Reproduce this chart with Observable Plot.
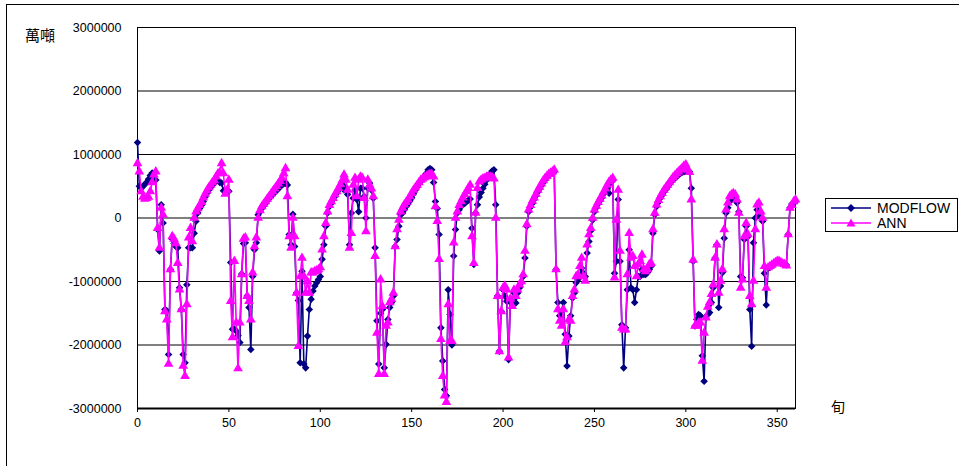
<!DOCTYPE html>
<html><head><meta charset="utf-8">
<script src="https://cdn.jsdelivr.net/npm/d3@7"></script>
<script src="https://cdn.jsdelivr.net/npm/@observablehq/plot@0.6"></script>
<style>
html,body{margin:0;padding:0;background:#fff;overflow:hidden;}
#wrap{position:relative;width:959px;height:466px;font-family:"Liberation Sans",Arial,sans-serif;}
#border{position:absolute;left:6px;top:4px;width:2000px;height:2000px;border:1px solid #000;box-sizing:border-box;}
#chart{position:absolute;left:0;top:0;}
#ylab{position:absolute;left:25px;top:24px;font-family:"Noto Sans CJK TC","Noto Sans CJK SC",sans-serif;font-size:15px;color:#000;}
#xlab{position:absolute;left:831px;top:396px;font-family:"Noto Sans CJK TC","Noto Sans CJK SC",sans-serif;font-size:14px;color:#000;}
#legend{position:absolute;left:825px;top:198px;width:133px;height:34px;border:1px solid #000;box-sizing:border-box;background:#fff;}
.row{position:absolute;left:4px;height:16px;display:flex;align-items:center;font-size:14px;color:#000;}
.row svg{margin-right:5px;}
</style></head>
<body><div id="wrap"><div id="border"></div><div id="chart"></div>
<div id="ylab">萬噸</div><div id="xlab">旬</div>
<div id="legend">
<div class="row" style="top:1px"><svg width="42" height="12"><line x1="1" x2="41" y1="6" y2="6" stroke="#000080" stroke-width="1.5"/><path d="M21,2 L25,6 L21,10 L17,6 Z" fill="#000080"/></svg>MODFLOW</div>
<div class="row" style="top:16px"><svg width="42" height="12"><line x1="1" x2="41" y1="6" y2="6" stroke="#FF00FF" stroke-width="1.5"/><path d="M21,1.5 L25.5,9.5 L16.5,9.5 Z" fill="#FF00FF"/></svg>ANN</div>
</div>
</div>
<script>
// 旬 index (ten-day period)
const periods = d3.range(0, 361);
// MODFLOW series (萬噸)
const modflow = [
1190e3,500e3,470e3,500e3,530e3,560e3,610e3,670e3,710e3,650e3,
600e3,-180e3,-520e3,210e3,-80e3,-1440e3,-1460e3,-2150e3,-810e3,-330e3,
-400e3,-450e3,-470e3,-1100e3,-1440e3,-2150e3,-2280e3,-1050e3,-470e3,-470e3,
-470e3,-240e3,-50e3,80e3,150e3,200e3,260e3,330e3,390e3,440e3,
480e3,520e3,550e3,580e3,600e3,560e3,550e3,430e3,420e3,420e3,
420e3,-700e3,-1750e3,-1750e3,-1780e3,-1850e3,-1960e3,-880e3,-400e3,-390e3,
-1230e3,-1410e3,-2070e3,-920e3,-500e3,-390e3,50e3,100e3,150e3,190e3,
230e3,270e3,310e3,340e3,370e3,400e3,430e3,460e3,490e3,520e3,
540e3,560e3,520e3,-260e3,-420e3,60e3,-450e3,-1180e3,-1300e3,-2280e3,
-840e3,-2300e3,-2360e3,-1860e3,-1440e3,-1280e3,-1150e3,-1070e3,-1020e3,-970e3,
-920e3,-650e3,-420e3,-130e3,80e3,180e3,230e3,290e3,340e3,390e3,
440e3,500e3,530e3,440e3,470e3,370e3,-420e3,80e3,310e3,440e3,
290e3,100e3,470e3,470e3,340e3,0,470e3,550e3,440e3,310e3,
-470e3,-1620e3,-2300e3,-1500e3,-1440e3,-2360e3,-1990e3,-1600e3,-1410e3,-1330e3,
-1230e3,-450e3,-340e3,-130e3,50e3,80e3,130e3,180e3,220e3,270e3,
320e3,380e3,440e3,490e3,540e3,580e3,610e3,650e3,700e3,760e3,
780e3,760e3,560e3,260e3,150e3,-260e3,-1730e3,-2250e3,-2700e3,-2800e3,
-1130e3,-1520e3,-2000e3,-600e3,-180e3,80e3,130e3,180e3,210e3,230e3,
260e3,280e3,300e3,-160e3,-730e3,80e3,210e3,330e3,400e3,470e3,
530e3,600e3,660e3,700e3,740e3,760e3,210e3,-1230e3,-2100e3,-1470e3,
-1130e3,-1230e3,-1310e3,-2230e3,-1330e3,-1310e3,-1180e3,-1340e3,-1180e3,-1100e3,
-1020e3,-920e3,-630e3,-130e3,100e3,170e3,230e3,290e3,350e3,410e3,
460e3,510e3,560e3,600e3,640e3,670e3,690e3,710e3,730e3,-810e3,
-1330e3,-1540e3,-1470e3,-1330e3,-1830e3,-2330e3,-1860e3,-1540e3,-1260e3,-1180e3,
-1020e3,-970e3,-920e3,-790e3,-870e3,-920e3,-550e3,-370e3,-200e3,-30e3,
100e3,160e3,220e3,270e3,320e3,380e3,430e3,480e3,390e3,560e3,
590e3,-870e3,-680e3,290e3,-680e3,-1680e3,-2360e3,-1730e3,-1130e3,-500e3,
-1100e3,-1130e3,-1330e3,-1130e3,-920e3,-920e3,-810e3,-890e3,-890e3,-860e3,
-810e3,-760e3,-240e3,50e3,180e3,250e3,310e3,360e3,410e3,450e3,
490e3,530e3,570e3,600e3,630e3,650e3,680e3,700e3,720e3,730e3,
740e3,740e3,730e3,470e3,-680e3,-1700e3,-1600e3,-1520e3,-1540e3,-2170e3,
-2570e3,-1570e3,-1520e3,-1490e3,-1330e3,-1100e3,-630e3,-420e3,-1410e3,-1070e3,
-860e3,-320e3,80e3,160e3,260e3,290e3,310e3,290e3,240e3,100e3,
-920e3,-940e3,-340e3,-130e3,-290e3,-1440e3,-2020e3,-390e3,0,130e3,
50e3,80e3,-50e3,-870e3,-1370e3,-790e3,-780e3,-760e3,-730e3,-700e3,
-690e3,-690e3,-700e3,-710e3,-720e3,-740e3,-260e3,160e3,220e3,240e3,
260e3
];
// ANN series (萬噸)
const ann = [
860e3,730e3,420e3,330e3,300e3,310e3,330e3,420e3,560e3,680e3,
730e3,-160e3,-470e3,160e3,50e3,-1470e3,-1600e3,-2300e3,-810e3,-290e3,
-330e3,-400e3,-710e3,-1130e3,-1440e3,-2330e3,-2490e3,-1360e3,-310e3,-160e3,
-370e3,0,100e3,150e3,200e3,250e3,320e3,380e3,430e3,480e3,
520e3,560e3,590e3,650e3,700e3,720e3,860e3,700e3,380e3,440e3,
600e3,-1310e3,-1880e3,-680e3,-1650e3,-2370e3,-1650e3,-890e3,-330e3,-310e3,
-1230e3,-1310e3,-1600e3,-860e3,-450e3,-310e3,0,120e3,180e3,220e3,
260e3,300e3,340e3,380e3,420e3,460e3,500e3,540e3,580e3,630e3,
700e3,780e3,340e3,-290e3,-470e3,0,-290e3,-1180e3,-2020e3,-920e3,
-630e3,-920e3,-1180e3,-1000e3,-1180e3,-860e3,-860e3,-840e3,-830e3,-810e3,
-780e3,-500e3,-290e3,-80e3,100e3,200e3,260e3,310e3,370e3,420e3,
470e3,530e3,590e3,680e3,600e3,440e3,-470e3,-240e3,520e3,630e3,
340e3,600e3,650e3,630e3,310e3,-210e3,600e3,520e3,460e3,340e3,
-600e3,-1810e3,-2460e3,-970e3,-1390e3,-2460e3,-1700e3,-1650e3,-1330e3,-1280e3,
-1180e3,-450e3,-180e3,-30e3,100e3,160e3,210e3,250e3,290e3,340e3,
390e3,440e3,480e3,520e3,560e3,600e3,620e3,640e3,660e3,680e3,
690e3,690e3,650e3,180e3,-50e3,-650e3,-1910e3,-2490e3,-2800e3,-2900e3,
-1360e3,-1940e3,-1940e3,-390e3,0,100e3,200e3,260e3,320e3,370e3,
420e3,470e3,520e3,-290e3,-710e3,80e3,470e3,570e3,600e3,620e3,
630e3,650e3,650e3,650e3,640e3,620e3,0,-1230e3,-2100e3,-1470e3,
-1100e3,-1070e3,-1130e3,-2200e3,-1270e3,-1390e3,-1130e3,-1230e3,-1130e3,-1050e3,
-1000e3,-890e3,-520e3,-100e3,130e3,200e3,270e3,320e3,380e3,440e3,
490e3,540e3,590e3,630e3,660e3,690e3,710e3,730e3,760e3,-810e3,
-1440e3,-1620e3,-1700e3,-1440e3,-1960e3,-1880e3,-1600e3,-1620e3,-1230e3,-1130e3,
-920e3,-890e3,-760e3,-630e3,-920e3,-990e3,-420e3,-260e3,-160e3,0,
130e3,190e3,250e3,300e3,350e3,410e3,460e3,520e3,570e3,600e3,
630e3,-940e3,-30e3,440e3,-520e3,-1730e3,-1760e3,-1760e3,-890e3,-240e3,
-630e3,-600e3,-760e3,-920e3,-730e3,-680e3,-580e3,-810e3,-840e3,-810e3,
-730e3,-710e3,-180e3,80e3,210e3,280e3,340e3,390e3,440e3,480e3,
520e3,560e3,600e3,640e3,670e3,700e3,730e3,760e3,790e3,820e3,
840e3,760e3,720e3,290e3,-660e3,-1700e3,-1700e3,-1650e3,-1650e3,-2250e3,
-1810e3,-1570e3,-1400e3,-1330e3,-1200e3,-1050e3,-630e3,-420e3,-1180e3,-990e3,
-810e3,-180e3,130e3,240e3,340e3,370e3,390e3,370e3,290e3,80e3,
-1100e3,-970e3,-290e3,-80e3,-260e3,-1230e3,-1360e3,-990e3,-180e3,210e3,
240e3,100e3,0,-760e3,-1100e3,-780e3,-760e3,-740e3,-720e3,-700e3,
-680e3,-680e3,-700e3,-720e3,-730e3,-750e3,-260e3,160e3,200e3,260e3,
290e3
];
const xTicks = [0, 50, 100, 150, 200, 250, 300, 350];
const yTicks = [-3000000, -2000000, -1000000, 0, 1000000, 2000000, 3000000];

const rowsM = periods.map((p, i) => ({x: p, y: modflow[i]}));
const rowsA = periods.map((p, i) => ({x: p, y: ann[i]}));

const chart = Plot.plot({
  width: 959, height: 466,
  marginLeft: 137, marginRight: 164, marginTop: 27, marginBottom: 58,
  style: {fontFamily: '"Liberation Sans", Arial, sans-serif', fontSize: "12.5px", background: "transparent", color: "#000"},
  x: {domain: [0, 360], label: null},
  y: {domain: [-3000000, 3000000], label: null},
  marks: [
    Plot.ruleY(yTicks, {stroke: "#000", strokeWidth: 1}),
    Plot.frame({stroke: "#000", strokeWidth: 1}),
    Plot.ruleY([-3000000], {stroke: "#000", strokeWidth: 2}),
    Plot.line(rowsM, {x: "x", y: "y", stroke: "#000080", strokeWidth: 1.6}),
    Plot.dot(rowsM, {x: "x", y: "y", symbol: "diamond2", fill: "#000080", stroke: "none", r: 3.4}),
    Plot.line(rowsA, {x: "x", y: "y", stroke: "#FF00FF", strokeWidth: 1.6}),
    Plot.dot(rowsA, {x: "x", y: "y", symbol: "triangle", fill: "#FF00FF", stroke: "none", r: 3.6}),
    Plot.axisX(xTicks, {tickSize: 4, tickPadding: 6, stroke: "#000", fill: "#000", label: null}),
    Plot.axisY(yTicks, {tickSize: 0, tickPadding: 16, tickFormat: d => String(d), fill: "#000", label: null})
  ]
});
document.getElementById("chart").appendChild(chart);
</script>
</body></html>
